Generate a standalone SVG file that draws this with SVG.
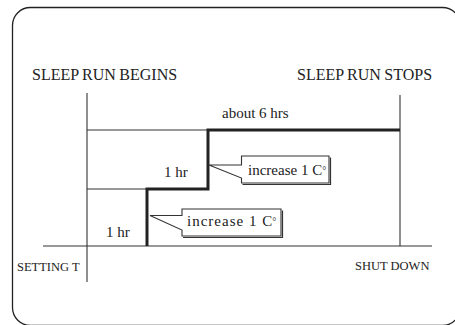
<svg xmlns="http://www.w3.org/2000/svg" width="455" height="325" viewBox="0 0 455 325">
<style>
.frame{fill:none;stroke:#222;stroke-width:1.3}
.thin{fill:none;stroke:#333;stroke-width:1.1}
.thick{fill:none;stroke:#222;stroke-width:3}
.call{fill:#fff;stroke:#333;stroke-width:1.1;stroke-linejoin:miter}
.shadow{fill:none;stroke:#333;stroke-width:1.2}
text{font-family:"Liberation Serif","Times New Roman",serif;fill:#222}
.lbl{font-size:15px}
.big{font-size:16px;word-spacing:-0.5px}
.sm{font-size:12.5px}
.deg{font-size:10px}
</style>
<rect x="12.5" y="7.5" width="448" height="318" rx="18" ry="18" class="frame"/>
<g id="connectors">
<line x1="87" y1="93" x2="87" y2="282" class="thin"/>
<line x1="400" y1="95" x2="400" y2="246" class="thin"/>
<line x1="43" y1="246" x2="432" y2="246" class="thin"/>
<line x1="87" y1="130" x2="207" y2="130" class="thin"/>
<line x1="87" y1="189" x2="147" y2="189" class="thin"/>
<path d="M147 246 V189 H208 V130 H400" class="thick"/>
</g>
<g id="labels">
<text x="32" y="80" class="big">SLEEP RUN BEGINS</text>
<text x="297" y="80" class="big">SLEEP RUN STOPS</text>
<text x="222" y="118" class="lbl">about 6 hrs</text>
<text x="164" y="177" class="lbl">1 hr</text>
<text x="106" y="237" class="lbl">1 hr</text>
<text x="17" y="271" class="sm">SETTING T</text>
<text x="355" y="270" class="sm">SHUT DOWN</text>
</g>
<g id="callout-upper">
<polyline points="242.5,184.5 330.5,184.5 330.5,157.5" class="shadow"/>
<polygon points="241.5,156 329,156 329,183 241.5,183 241.5,178 209,165 241.5,165" class="call"/>
<text x="248" y="175" class="lbl">increase 1 C<tspan class="deg" dx="0" dy="-1">°</tspan></text>
</g>
<g id="callout-lower">
<polyline points="183,237.5 282.5,237.5 282.5,210.5" class="shadow"/>
<polygon points="182,209 281,209 281,236 182,236 182,230 150,215.5 182,215.5" class="call"/>
<text x="187" y="226" class="lbl" letter-spacing="1">increase 1 C<tspan class="deg" dx="-1" dy="-1">°</tspan></text>
</g>
</svg>
